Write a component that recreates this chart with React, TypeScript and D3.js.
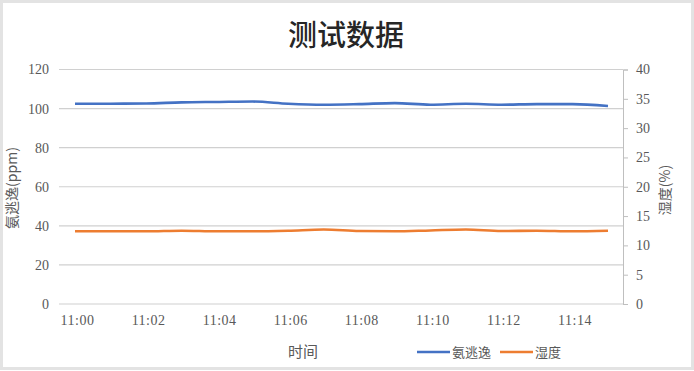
import { useEffect, useRef } from "react";
import * as d3 from "d3";

const TIMES = ["11:00", "11:01", "11:02", "11:03", "11:04", "11:05", "11:06", "11:07",
  "11:08", "11:09", "11:10", "11:11", "11:12", "11:13", "11:14", "11:15"];
const AMMONIA = [102.5, 102.5, 102.6, 103.2, 103.4, 103.6, 102.5, 102.0,
  102.3, 102.8, 102.0, 102.5, 102.0, 102.3, 102.3, 101.3];
const HUMIDITY = [12.4, 12.4, 12.4, 12.5, 12.4, 12.4, 12.5, 12.7,
  12.45, 12.4, 12.55, 12.7, 12.45, 12.5, 12.4, 12.5];
const LEFT_TICKS = [0, 20, 40, 60, 80, 100, 120];
const RIGHT_TICKS = [0, 5, 10, 15, 20, 25, 30, 35, 40];

const W = 694;
const H = 371;
const BLUE = "#4472c4";
const ORANGE = "#ed7d31";
const LABEL = "#595959";
const CJK = "'Noto Sans CJK SC', sans-serif";
const NUM = "'Liberation Serif', serif";

export default function App() {
  const ref = useRef<SVGSVGElement | null>(null);

  useEffect(() => {
    if (!ref.current) return;
    const svg = d3.select(ref.current);
    svg.selectAll("*").remove();

    const left = 59, right = 623, top = 69.5, bottom = 304;
    const x = d3.scalePoint().domain(TIMES).range([75, 608]);
    const yL = d3.scaleLinear().domain([0, 120]).range([bottom, top]);
    const yR = d3.scaleLinear().domain([0, 40]).range([bottom, top]);

    // chart frame
    svg.append("rect")
      .attr("x", 1.5).attr("y", 1.5)
      .attr("width", W - 3).attr("height", H - 4)
      .attr("fill", "#fff")
      .attr("stroke", "#e3e3e3").attr("stroke-width", 3);

    svg.append("text")
      .attr("x", 346).attr("y", 46)
      .attr("text-anchor", "middle")
      .style("font-family", CJK).style("font-size", "29px").style("font-weight", 500)
      .style("fill", "#262626")
      .text("测试数据");

    // gridlines
    svg.append("g").selectAll("line")
      .data(LEFT_TICKS)
      .join("line")
      .attr("x1", left).attr("x2", right)
      .attr("y1", d => yL(d)).attr("y2", d => yL(d))
      .attr("stroke", "#d0d0d0").attr("stroke-width", 1.2);

    // left axis labels
    const gl = svg.append("g")
      .attr("transform", `translate(${left - 10},0)`)
      .call(d3.axisLeft(yL).tickValues(LEFT_TICKS).tickSize(0).tickPadding(0));
    gl.select(".domain").remove();
    gl.selectAll("text").style("font-family", NUM).style("font-size", "14px").style("fill", LABEL);

    // right axis
    const gr = svg.append("g")
      .attr("transform", `translate(${right},0)`)
      .call(d3.axisRight(yR).tickValues(RIGHT_TICKS).tickSize(5).tickPadding(8));
    gr.select(".domain").attr("stroke", "#bfbfbf");
    gr.selectAll("line").attr("stroke", "#bfbfbf");
    gr.selectAll("text").style("font-family", NUM).style("font-size", "14px").style("fill", LABEL);

    // x labels (every other minute)
    const gx = svg.append("g")
      .attr("transform", `translate(2,${bottom + 11})`)
      .call(d3.axisBottom(x).tickValues(TIMES.filter((_, i) => i % 2 === 0)).tickSize(0).tickPadding(0));
    gx.select(".domain").remove();
    gx.selectAll("text").attr("dy", "0.71em")
      .style("font-family", NUM).style("font-size", "14px").style("letter-spacing", "0.5px")
      .style("fill", LABEL);

    // axis titles
    svg.append("text")
      .attr("transform", `translate(17,188) rotate(-90)`)
      .attr("text-anchor", "middle")
      .style("font-family", CJK).style("font-size", "14px").style("fill", LABEL)
      .text("氨逃逸(ppm)");
    svg.append("text")
      .attr("transform", `translate(670,190) rotate(-90)`)
      .attr("text-anchor", "middle")
      .style("font-family", CJK).style("font-size", "14px").style("fill", LABEL)
      .text("湿度(%)");
    svg.append("text")
      .attr("x", 303).attr("y", 357)
      .attr("text-anchor", "middle")
      .style("font-family", CJK).style("font-size", "15px").style("fill", LABEL)
      .text("时间");

    // series
    const lineL = d3.line<number>()
      .x((_, i) => x(TIMES[i]) || 0)
      .y(d => yL(d))
      .curve(d3.curveMonotoneX);
    const lineR = d3.line<number>()
      .x((_, i) => x(TIMES[i]) || 0)
      .y(d => yR(d))
      .curve(d3.curveMonotoneX);
    svg.append("path").datum(AMMONIA)
      .attr("d", lineL).attr("fill", "none")
      .attr("stroke", BLUE).attr("stroke-width", 2.6);
    svg.append("path").datum(HUMIDITY)
      .attr("d", lineR).attr("fill", "none")
      .attr("stroke", ORANGE).attr("stroke-width", 2.6);

    // legend
    const legend = [
      { name: "氨逃逸", color: BLUE, x: 417 },
      { name: "湿度", color: ORANGE, x: 500 },
    ];
    const lg = svg.append("g").selectAll("g").data(legend).join("g")
      .attr("transform", d => `translate(${d.x},352)`);
    lg.append("line")
      .attr("x1", 0).attr("x2", 33)
      .attr("stroke", d => d.color).attr("stroke-width", 2.6);
    lg.append("text")
      .attr("x", 35).attr("dy", "0.35em")
      .style("font-family", CJK).style("font-size", "13px").style("fill", LABEL)
      .text(d => d.name);
  }, []);

  return (
    <svg ref={ref} width={W} height={H}
      style={{ position: "absolute", left: 0, top: 0, background: "#fff" }} />
  );
}
